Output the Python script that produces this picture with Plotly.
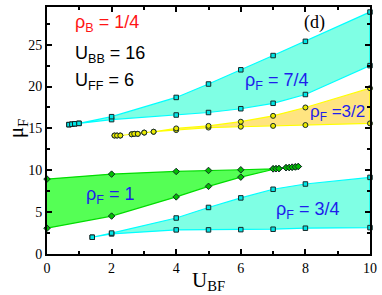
import plotly.graph_objects as go

# rho_F = 7/4 band (cyan, upper)
x74 = [0.68, 0.77, 0.86, 0.99, 2, 4, 5, 6, 7, 8, 10]
lo74 = [15.45, 15.5, 15.55, 15.6, 16.05, 16.6, 16.9, 17.35, 18.0, 19.05, 22.5]
hi74 = [15.45, 15.5, 15.55, 15.6, 16.4, 18.7, 20.3, 22.0, 23.7, 25.4, 28.9]

# rho_F = 3/2 band (yellow)
x32 = [2.09, 2.17, 2.27, 2.62, 2.70, 2.81, 3.01, 3.30, 4, 5, 6, 7, 8, 10]
lo32 = [14.15, 14.15, 14.15, 14.3, 14.35, 14.35, 14.5, 14.6, 14.8, 15.1, 15.2, 15.3, 15.4, 15.6]
hi32 = [14.15, 14.15, 14.15, 14.3, 14.35, 14.35, 14.5, 14.6, 15.0, 15.3, 15.8, 16.5, 17.5, 19.8]

# rho_F = 1 band (green)
x1 = [0, 2, 4, 5, 6, 7, 7.09, 7.18, 7.40, 7.50, 7.59, 7.69, 7.78]
lo1 = [3.08, 4.53, 6.82, 8.08, 9.18, 10.17, 10.18, 10.2, 10.3, 10.33, 10.37, 10.4, 10.45]
hi1 = [8.95, 9.54, 9.86, 9.98, 10.06, 10.17, 10.18, 10.2, 10.3, 10.33, 10.37, 10.4, 10.45]

# rho_F = 3/4 band (cyan, lower)
x34 = [1.4, 2, 4, 5, 6, 7, 8, 10]
lo34 = [2.0, 2.4, 2.88, 2.88, 2.91, 2.96, 3.08, 3.15]
hi34 = [2.0, 2.5, 4.3, 5.56, 6.7, 7.73, 8.36, 9.15]

xticks = [0, 2, 4, 6, 8, 10]
yticks = [0, 5, 10, 15, 20, 25]

CYAN_FILL = "rgb(127,255,228)"
CYAN_LINE = "rgb(0,255,255)"
GREEN_FILL = "rgb(85,255,85)"
GREEN_LINE = "rgb(0,220,0)"
YEL_FILL = "rgb(255,228,128)"
YEL_LINE = "rgb(255,255,0)"

fig = go.Figure()


def band(x, lo, hi, fill, line, mfill, symbol, msize):
    fig.add_trace(go.Scatter(
        x=list(x) + list(x)[::-1], y=list(lo) + list(hi)[::-1],
        fill="toself", fillcolor=fill, mode="lines",
        line=dict(color=line, width=1.2), hoverinfo="skip", showlegend=False))
    for ys in (lo, hi):
        fig.add_trace(go.Scatter(
            x=x, y=ys, mode="markers", cliponaxis=False, showlegend=False,
            marker=dict(symbol=symbol, size=msize, color=mfill,
                        line=dict(color="rgb(20,40,40)", width=1))))


band(x74, lo74, hi74, CYAN_FILL, CYAN_LINE, "rgb(0,230,230)", "square", 4.5)
band(x32, lo32, hi32, YEL_FILL, YEL_LINE, "rgb(235,235,0)", "circle", 5)
band(x1, lo1, hi1, GREEN_FILL, GREEN_LINE, "rgb(0,190,0)", "diamond", 5)
band(x34, lo34, hi34, CYAN_FILL, CYAN_LINE, "rgb(0,230,230)", "square", 4.5)

SANS = "Liberation Sans"
SERIF = "Liberation Serif"
BLUE = "rgb(30,30,235)"

ann = [
    dict(x=0.79, y=27.5, text="ρ<sub>B</sub> = 1/4", color="rgb(255,20,20)", xa="left", size=18),
    dict(x=0.79, y=23.8, text="U<sub>BB</sub> = 16", color="black", xa="left", size=18),
    dict(x=0.79, y=20.6, text="U<sub>FF</sub> = 6", color="black", xa="left", size=18),
    dict(x=7.11, y=20.6, text="ρ<sub>F</sub> = 7/4", color=BLUE, xa="center", size=18),
    dict(x=8.99, y=16.8, text="ρ<sub>F</sub> =3/2", color=BLUE, xa="center", size=17),
    dict(x=1.96, y=7.0, text="ρ<sub>F</sub> = 1", color=BLUE, xa="center", size=18),
    dict(x=8.07, y=5.2, text="ρ<sub>F</sub> = 3/4", color=BLUE, xa="center", size=18),
]
for a in ann:
    fig.add_annotation(x=a["x"], y=a["y"], xref="x", yref="y", text=a["text"],
                       showarrow=False, xanchor=a["xa"], yanchor="middle",
                       font=dict(family=SANS, size=a["size"], color=a["color"]))
fig.add_annotation(x=8.28, y=27.7, xref="x", yref="y", text="(d)", showarrow=False,
                   font=dict(family=SERIF, size=18, color="black"))
fig.add_annotation(x=0.5, y=-0.108, xref="paper", yref="paper", text="U<sub>BF</sub>",
                   showarrow=False, yanchor="middle",
                   font=dict(family=SERIF, size=21, color="black"))
fig.add_annotation(x=-0.092, y=0.506, xref="paper", yref="paper", text="μ<sub>F</sub>",
                   showarrow=False, textangle=-90, xanchor="center", yanchor="middle",
                   font=dict(family=SERIF, size=21, color="black"))

axis_common = dict(showgrid=False, zeroline=False, showline=True, linecolor="black",
                   linewidth=2, mirror="ticks", ticks="inside", ticklen=5, tickwidth=1.5,
                   tickcolor="black", tickfont=dict(family=SERIF, size=14, color="black"))
fig.update_xaxes(range=[0, 10], tickvals=xticks, ticktext=[str(v) for v in xticks],
                 minor=dict(ticks="inside", ticklen=3, tickcolor="black", dtick=1, tick0=0),
                 **axis_common)
fig.update_yaxes(range=[0, 29.5], tickvals=yticks, ticktext=[str(v) for v in yticks],
                 minor=dict(ticks="inside", ticklen=3, tickcolor="black", dtick=2.5, tick0=0),
                 **axis_common)
fig.update_layout(width=382, height=295, margin=dict(l=47, r=10, t=5, b=41),
                  plot_bgcolor="white", paper_bgcolor="white", showlegend=False)

fig.write_html("out.html", config={"displayModeBar": False},
               post_script="document.body.style.margin='0';document.body.style.overflow='hidden';")
